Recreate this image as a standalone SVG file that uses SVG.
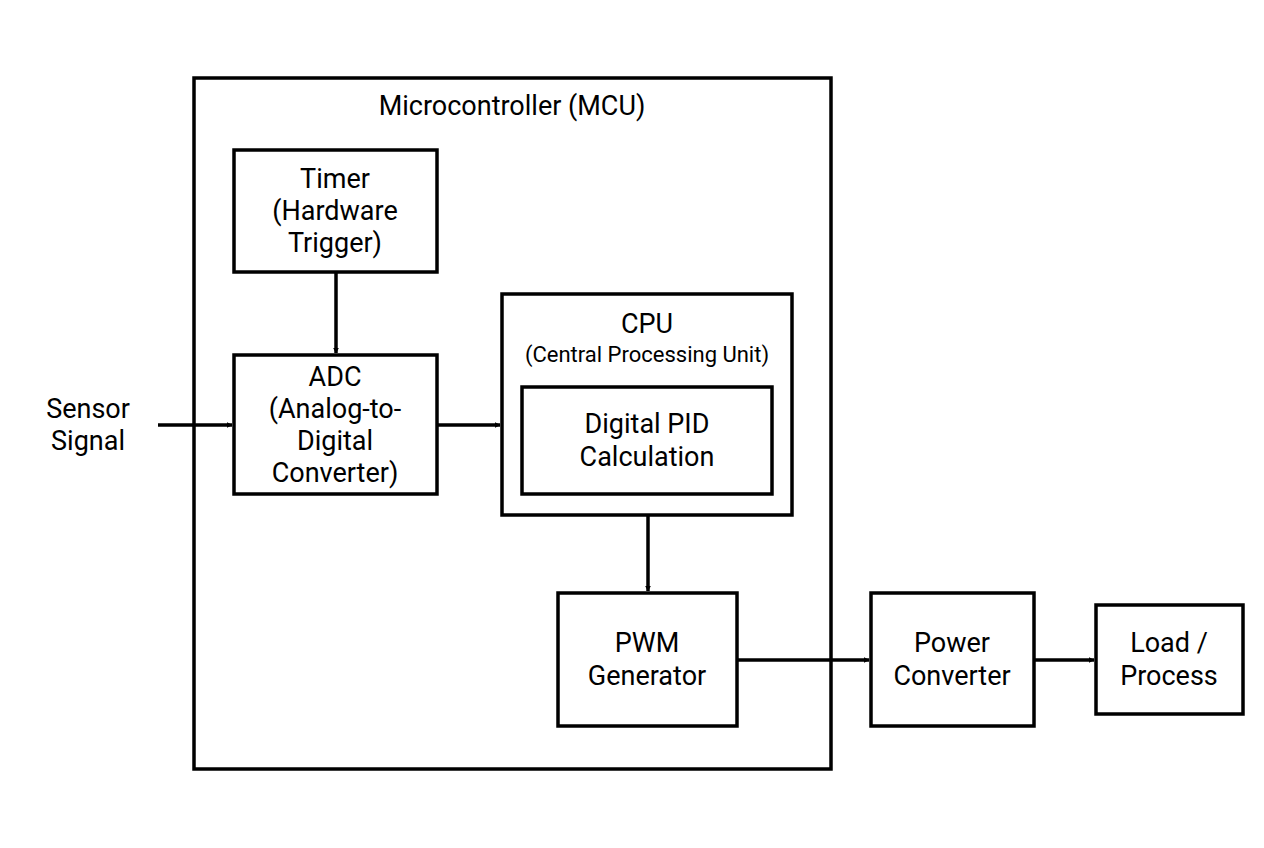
<svg xmlns="http://www.w3.org/2000/svg" width="1264" height="848" viewBox="0 0 1264 848">
<style>
.b{fill:#fff;stroke:#000;stroke-width:3.5}
.t{font-family:Roboto,"Liberation Sans",sans-serif;font-size:27px;text-anchor:middle;fill:#000}
.c{stroke:#000;stroke-width:3.5;fill:none;marker-end:url(#a)}
</style>
<defs><marker id="a" viewBox="0 0 10 10" refX="9" refY="5" markerWidth="6" markerHeight="6" markerUnits="userSpaceOnUse" orient="auto"><path d="M0,0L10,5L0,10z"/></marker></defs>
<rect width="1264" height="848" fill="#fff"/>
<g id="mcu"><rect class="b" x="194" y="78" width="637" height="691"/><text class="t" x="512" y="115">Microcontroller (MCU)</text></g>
<g id="timer"><rect class="b" x="234" y="150" width="203" height="122"/><text class="t" x="335" y="188">Timer</text><text class="t" x="335" y="220">(Hardware</text><text class="t" x="335" y="252">Trigger)</text></g>
<g id="adc"><rect class="b" x="234" y="355" width="203" height="139"/><text class="t" x="335" y="386">ADC</text><text class="t" x="335" y="418">(Analog-to-</text><text class="t" x="335" y="450">Digital</text><text class="t" x="335" y="482">Converter)</text></g>
<g id="cpu"><rect class="b" x="502" y="294" width="290" height="221"/><text class="t" x="647" y="333">CPU</text><text class="t" x="647" y="362" style="font-size:22px">(Central Processing Unit)</text></g>
<g id="pid"><rect class="b" x="522" y="387" width="250" height="107"/><text class="t" x="647" y="433">Digital PID</text><text class="t" x="647" y="466">Calculation</text></g>
<g id="pwm"><rect class="b" x="558" y="593" width="179" height="133"/><text class="t" x="647" y="652">PWM</text><text class="t" x="647" y="685">Generator</text></g>
<g id="power"><rect class="b" x="871" y="593" width="163" height="133"/><text class="t" x="952" y="652">Power</text><text class="t" x="952" y="685">Converter</text></g>
<g id="load"><rect class="b" x="1096" y="605" width="147" height="109"/><text class="t" x="1169" y="652">Load /</text><text class="t" x="1169" y="685">Process</text></g>
<g id="sensor"><text class="t" x="88" y="418">Sensor</text><text class="t" x="88" y="450">Signal</text></g>
<g id="connectors">
<path class="c" d="M158,425H232"/>
<path class="c" d="M336,272V353"/>
<path class="c" d="M437,425H500"/>
<path class="c" d="M648,515V591"/>
<path class="c" d="M737,660H869"/>
<path class="c" d="M1034,660H1094"/>
</g>
</svg>
